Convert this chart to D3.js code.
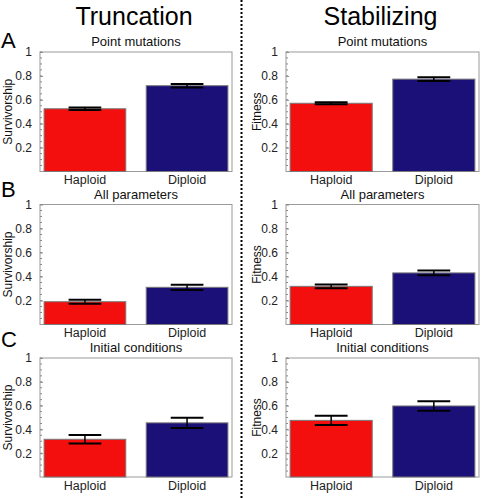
<!DOCTYPE html>
<html>
<head>
<meta charset="utf-8">
<script src="https://cdn.jsdelivr.net/npm/d3@7"></script>
<style>
  html, body { margin: 0; padding: 0; background: #fff; }
  svg { display: block; }
  text { font-family: "Liberation Sans", Arial, Helvetica, sans-serif; }
</style>
</head>
<body>
<svg id="chart" width="481" height="498"></svg>
<script>
// ---- data ----
const categories = ["Haploid", "Diploid"];
const columnTitles = ["Truncation", "Stabilizing"];
const columnYLabels = ["Survivorship", "Fitness"];
const rowLetters = ["A", "B", "C"];
const rowTitles = ["Point mutations", "All parameters", "Initial conditions"];
const truncationMeans = [[0.525, 0.718], [0.19, 0.31], [0.317, 0.455]];
const truncationErrors = [[0.01, 0.015], [0.017, 0.022], [0.036, 0.043]];
const stabilizingMeans = [[0.571, 0.773], [0.318, 0.43], [0.476, 0.597]];
const stabilizingErrors = [[0.008, 0.015], [0.015, 0.02], [0.038, 0.04]];
const yTicks = [0.2, 0.4, 0.6, 0.8, 1];
const barColors = ["#f40f0f", "#1b1078"];

// ---- layout ----
const svg = d3.select("#chart");
const colLayout = [{ x0: 40, x1: 232, labelX: 12 }, { x0: 286, x1: 479, labelX: 261 }];
const rowLayout = [
  { y0: 52, y1: 171.5, letterY: 48 },
  { y0: 204.5, y1: 324.5, letterY: 196.7 },
  { y0: 358, y1: 477, letterY: 346.7 }
];
const meansByCol = [truncationMeans, stabilizingMeans];
const errorsByCol = [truncationErrors, stabilizingErrors];

// divider
svg.append("line")
  .attr("x1", 241.5).attr("x2", 241.5).attr("y1", 0).attr("y2", 498)
  .attr("stroke", "#000").attr("stroke-width", 2).attr("stroke-dasharray", "2,2");

// column titles
columnTitles.forEach((t, c) => {
  const L = colLayout[c];
  svg.append("text").attr("x", (L.x0 + L.x1) / 2 - 2).attr("y", 25)
    .attr("text-anchor", "middle").attr("font-size", 25).attr("fill", "#000").text(t);
});

// row letters
rowLetters.forEach((t, r) => {
  svg.append("text").attr("x", 1).attr("y", rowLayout[r].letterY)
    .attr("font-size", 22).attr("fill", "#000").text(t);
});

colLayout.forEach((L, c) => {
  rowLayout.forEach((R, r) => {
    const g = svg.append("g");
    const x = d3.scaleBand().domain(categories).range([L.x0, L.x1])
      .paddingInner(0.2).paddingOuter(0.04);
    const y = d3.scaleLinear().domain([0, 1]).range([R.y1, R.y0]);
    const means = meansByCol[c][r];
    const errs = errorsByCol[c][r];

    // frame
    g.append("rect").attr("x", L.x0).attr("y", R.y0)
      .attr("width", L.x1 - L.x0).attr("height", R.y1 - R.y0)
      .attr("fill", "none").attr("stroke", "#9a9a9a").attr("stroke-width", 1);

    // minor ticks
    const minor = d3.range(0.05, 1.0001, 0.05);
    g.selectAll("line.minor").data(minor).join("line")
      .attr("x1", L.x0).attr("x2", L.x0 + 2)
      .attr("y1", d => y(d)).attr("y2", d => y(d))
      .attr("stroke", "#8a8a8a").attr("stroke-width", 1);

    // y axis
    const yAxis = d3.axisLeft(y).tickValues(yTicks)
      .tickFormat(d => String(d)).tickSize(-3).tickPadding(8);
    const ag = g.append("g").attr("transform", `translate(${L.x0},0)`).call(yAxis);
    ag.select(".domain").remove();
    ag.selectAll(".tick line").attr("stroke", "#8a8a8a");
    ag.selectAll(".tick text").attr("font-size", 12).attr("fill", "#222")
      .attr("font-family", "Liberation Sans, Arial, sans-serif");

    // x axis labels
    const xAxis = d3.axisBottom(x).tickSize(0).tickPadding(4);
    const xg = g.append("g").attr("transform", `translate(0,${R.y1})`).call(xAxis);
    xg.select(".domain").remove();
    xg.selectAll(".tick text").attr("font-size", 12.5).attr("fill", "#222")
      .attr("font-family", "Liberation Sans, Arial, sans-serif");

    // bars
    g.selectAll("rect.bar").data(categories).join("rect").attr("class", "bar")
      .attr("x", d => x(d)).attr("width", x.bandwidth())
      .attr("y", (d, i) => y(means[i])).attr("height", (d, i) => y(0) - y(means[i]))
      .attr("fill", (d, i) => barColors[i])
      .attr("stroke", "#7a7a7a").attr("stroke-width", 1);

    // error bars
    const capHalf = x.bandwidth() * 0.2;
    categories.forEach((d, i) => {
      const cx = x(d) + x.bandwidth() / 2;
      const lo = y(means[i] - errs[i]), hi = y(means[i] + errs[i]);
      g.append("line").attr("x1", cx).attr("x2", cx).attr("y1", lo).attr("y2", hi)
        .attr("stroke", "#000").attr("stroke-width", 1.5);
      [lo, hi].forEach(v => {
        g.append("line").attr("x1", cx - capHalf).attr("x2", cx + capHalf)
          .attr("y1", v).attr("y2", v).attr("stroke", "#000").attr("stroke-width", 2);
      });
    });

    // subtitle
    g.append("text").attr("x", (L.x0 + L.x1) / 2).attr("y", R.y0 - 6)
      .attr("text-anchor", "middle").attr("font-size", 13).attr("fill", "#111")
      .text(rowTitles[r]);

    // y label
    g.append("text")
      .attr("transform", `translate(${L.labelX},${(R.y0 + R.y1) / 2}) rotate(-90)`)
      .attr("text-anchor", "middle").attr("font-size", 12).attr("fill", "#111")
      .text(columnYLabels[c]);
  });
});
</script>
</body>
</html>
